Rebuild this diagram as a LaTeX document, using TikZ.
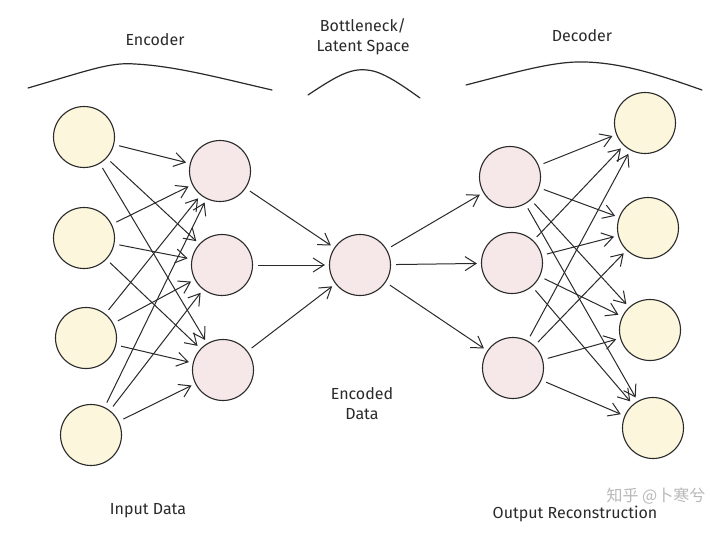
\documentclass[tikz,border=0pt]{standalone}
\usepackage{fontspec}
\setmainfont{Fira Sans}
\newfontfamily\cjk{Noto Sans CJK SC}
\usetikzlibrary{arrows.meta}
\definecolor{inyel}{HTML}{FBF6DC}
\definecolor{hidpink}{HTML}{F6E8E8}
\definecolor{ink}{HTML}{2A2A2A}
\begin{document}
\begin{tikzpicture}[x=1pt,y=-1pt,
  neuron/.style={circle,draw=ink,line width=1.1pt,minimum size=61pt,inner sep=0pt},
  inneuron/.style={neuron,fill=inyel},
  hidneuron/.style={neuron,fill=hidpink},
  conn/.style={draw=ink,line width=1pt,-{Straight Barb[length=11pt,width=14pt,line width=1pt]},shorten >=4pt,shorten <=5pt},
  lbl/.style={font=\fontsize{16}{20}\selectfont,text=ink,align=center},
  brace/.style={draw=ink,line width=1.2pt,line cap=round}]
\useasboundingbox (0,0) rectangle (720,533);
\fill[white] (0,0) rectangle (720,533);
% input layer
\node[inneuron] (i1) at (84,137) {};
\node[inneuron] (i2) at (84,238) {};
\node[inneuron] (i3) at (86,338) {};
\node[inneuron] (i4) at (91,435) {};
% encoder hidden
\node[hidneuron] (h1) at (220,171) {};
\node[hidneuron] (h2) at (222,265) {};
\node[hidneuron] (h3) at (223,370) {};
% bottleneck
\node[hidneuron] (b) at (360,265) {};
% decoder hidden
\node[hidneuron] (d1) at (510,177) {};
\node[hidneuron] (d2) at (512,263) {};
\node[hidneuron] (d3) at (513,368) {};
% output layer
\node[inneuron] (o1) at (645,123) {};
\node[inneuron] (o2) at (648,228) {};
\node[inneuron] (o3) at (650,330) {};
\node[inneuron] (o4) at (653,428) {};
% connections
\foreach \s in {i1,i2,i3,i4}{
  \foreach \t in {h1,h2,h3}{
    \draw[conn] (\s) -- (\t);
  }
}
\foreach \s in {h1,h2,h3}{\draw[conn] (\s) -- (b);}
\foreach \t in {d1,d2,d3}{\draw[conn] (b) -- (\t);}
\foreach \s in {d1,d2,d3}{
  \foreach \t in {o1,o2,o3,o4}{
    \draw[conn] (\s) -- (\t);
  }
}
% braces (curves)
\coordinate (e0) at (28,88); \coordinate (e1) at (272,90);
\draw[brace] (e0) .. controls (90,70) and (110,62) .. (135,64) .. controls (175,66) and (220,78) .. (e1);
\coordinate (l0) at (308,95); \coordinate (l1) at (420,98);
\draw[brace] (l0) .. controls (335,77) and (350,68) .. (367,70) .. controls (380,71) and (395,80) .. (l1);
\coordinate (r0) at (466,85); \coordinate (r1) at (702,90);
\draw[brace] (r0) .. controls (520,71) and (555,61) .. (585,62) .. controls (625,63) and (665,77) .. (r1);
% labels
\node[lbl] (tenc) at (155,40) {Encoder};
\node[lbl] (tlat) at (363,37) {Bottleneck/\\Latent Space};
\node[lbl] (tdec) at (582,36) {Decoder};
\node[lbl] (tcode) at (362,404) {Encoded\\Data};
\node[lbl] (tin) at (148,511) {Input Data};
\node[lbl] (tout) at (575,514) {Output Reconstruction};
\node[font=\cjk\fontsize{16}{18}\selectfont,text=black!28] (wm) at (656,496) {知乎 @卜寒兮};
\end{tikzpicture}
\end{document}
